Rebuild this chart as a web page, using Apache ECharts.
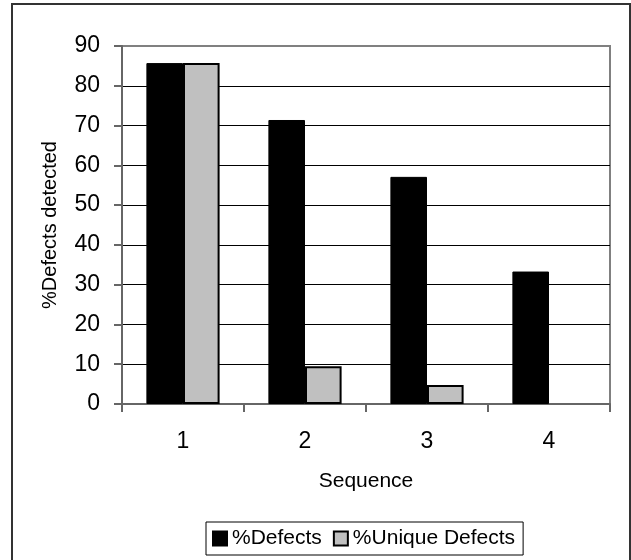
<!DOCTYPE html>
<html>
<head>
<meta charset="utf-8">
<script src="https://cdn.jsdelivr.net/npm/echarts@6/dist/echarts.min.js"></script>
<style>html,body{margin:0;padding:0;background:#fff;}#c{width:631px;height:560px;}</style>
</head>
<body>
<div id="c"></div>
<script>
const categories = ['1', '2', '3', '4'];
const defects = [85.7, 71.4, 57.1, 33.3];
const uniqueDefects = [85.7, 9.5, 4.8, 0];
const yTicks = { min: 0, max: 90, interval: 10 };

const chart = echarts.init(document.getElementById('c'), null, { renderer: 'canvas' });
const font = 'Liberation Sans, Arial, sans-serif';
const gridColors = [];
for (let v = yTicks.min; v <= yTicks.max; v += yTicks.interval) gridColors.push(v === yTicks.max ? '#808080' : '#000');
const toItems = arr => arr.map(v => v === 0 ? { value: v, itemStyle: { borderWidth: 0 } } : v);

chart.setOption({
  animation: false,
  backgroundColor: '#fff',
  textStyle: { fontFamily: font, color: '#000' },
  graphic: [{
    type: 'rect', z: 100,
    shape: { x: 12, y: 4, width: 618, height: 600 },
    style: { fill: 'none', stroke: '#333', lineWidth: 2 }
  }],
  grid: { left: 122, top: 46, right: 21, bottom: 156, show: true, borderColor: '#808080', borderWidth: 2, backgroundColor: 'transparent' },
  legend: {
    left: 206, top: 522,
    padding: [6, 8, 6, 6],
    itemGap: 11, itemWidth: 14, itemHeight: 14,
    borderColor: '#000', borderWidth: 1,
    icon: 'rect',
    textStyle: { fontFamily: font, fontSize: 21, color: '#000' },
    data: ['%Defects', '%Unique Defects']
  },
  xAxis: {
    type: 'category', data: categories,
    name: 'Sequence', nameLocation: 'middle', nameGap: 67,
    nameTextStyle: { fontFamily: font, fontSize: 21, color: '#000' },
    axisLine: { lineStyle: { color: '#666', width: 2 } },
    axisTick: { show: true, length: 8, lineStyle: { color: '#666', width: 2 } },
    axisLabel: { fontFamily: font, fontSize: 23, color: '#000', margin: 26 },
    splitLine: { show: false }
  },
  yAxis: {
    type: 'value', min: yTicks.min, max: yTicks.max, interval: yTicks.interval,
    name: '%Defects detected', nameLocation: 'middle', nameGap: 62, nameRotate: 90,
    nameTextStyle: { fontFamily: font, fontSize: 20, color: '#000' },
    axisLine: { show: true, lineStyle: { color: '#666', width: 2 } },
    axisTick: { show: true, length: 8, lineStyle: { color: '#666', width: 2 } },
    axisLabel: { fontFamily: font, fontSize: 23, color: '#000', margin: 22 },
    splitLine: { show: true, lineStyle: { color: gridColors, width: 1 } }
  },
  series: [
    { name: '%Defects', type: 'bar', data: toItems(defects), barWidth: '30%', barGap: '0%',
      itemStyle: { color: '#000', borderColor: '#000', borderWidth: 1 } },
    { name: '%Unique Defects', type: 'bar', data: toItems(uniqueDefects), barWidth: '30%', barGap: '0%',
      itemStyle: { color: '#c0c0c0', borderColor: '#000', borderWidth: 2 } }
  ]
});
</script>
</body>
</html>
